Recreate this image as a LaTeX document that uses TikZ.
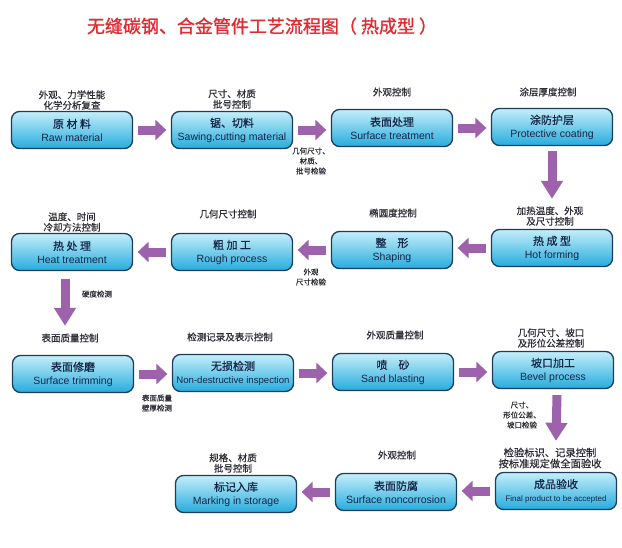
\documentclass[tikz,border=0pt]{standalone}
\usepackage{fontspec}
\setmainfont{Liberation Sans}
\newfontfamily\cjk[FakeBold=0.6]{Noto Sans CJK SC}
\newfontfamily\cjktitle[FakeBold=1.2]{Noto Sans CJK SC}
\usetikzlibrary{arrows.meta,calc}
\definecolor{boxline}{RGB}{28,62,92}
\definecolor{cyanlight}{RGB}{196,238,249}
\definecolor{cyandark}{RGB}{38,172,222}
\definecolor{boxtext}{RGB}{22,38,70}
\definecolor{labtext}{RGB}{45,45,55}
\definecolor{arrowcol}{RGB}{158,98,172}
\definecolor{titlered}{RGB}{226,42,48}
\newcommand\bxt[2]{{\cjk\fontsize{11}{13}\selectfont #1}\\#2}
\begin{document}
\begin{tikzpicture}[x=1pt,y=-1pt,
  box/.style={rounded corners=8pt, draw=boxline, line width=1.3pt,
    top color=cyanlight, bottom color=cyandark,
    minimum width=121pt, minimum height=37pt, inner sep=0pt, align=center,
    text=boxtext, font=\fontsize{10.5}{13}\selectfont},
  lab/.style={align=center, text=labtext, inner sep=0pt,
    font=\cjk\fontsize{9.5}{10.5}\selectfont},
  slab/.style={align=center, text=labtext, inner sep=0pt,
    font=\cjk\fontsize{7.5}{10}\selectfont},
  flowh/.style={line width=9pt, draw=arrowcol,
    -{Triangle[width=20pt,length=11pt]}, shorten <=4.5pt, shorten >=4.5pt},
  flowv/.style={line width=9pt, draw=arrowcol,
    -{Triangle[width=21pt,length=18pt]}}]
\fill[white] (0,0) rectangle (622,547);
\useasboundingbox (0,0) rectangle (622,547);

\node[text=titlered, inner sep=0pt, font=\cjktitle\fontsize{18}{20}\selectfont] (title) at (262,26) {无缝碳钢、合金管件工艺流程图（ 热成型 ）};

% row 1
\node[box] (raw) at (72,130) {\bxt{原 材 料}{Raw material}};
\node[box] (saw) at (232,130) {\bxt{锯、切料}{Sawing,cutting material}};
\node[box] (surf) at (392,128) {\bxt{表面处理}{Surface treatment}};
\node[box] (coat) at (552,127) {\bxt{涂防护层}{Protective coating}};
% row 2
\node[box] (heat) at (72,252) {\bxt{热 处 理}{Heat treatment}};
\node[box] (rough) at (232,252) {\bxt{粗 加 工}{Rough process}};
\node[box] (shape) at (392,250) {\bxt{整\quad 形}{Shaping}};
\node[box] (hot) at (552,248) {\bxt{热 成 型}{Hot forming}};
% row 3
\node[box] (trim) at (73,374) {\bxt{表面修磨}{Surface trimming}};
\node[box] (ndt) at (233,373) {\bxt{无损检测}{\fontsize{9.6}{13}\selectfont Non-destructive inspection}};
\node[box] (sand) at (393,372) {\bxt{喷\quad 砂}{Sand blasting}};
\node[box] (bevel) at (553,370) {\bxt{坡口加工}{Bevel process}};
% row 4
\node[box] (final) at (556,491) {\bxt{成品验收}{\fontsize{8}{13}\selectfont Final product to be accepted}};
\node[box] (noncorr) at (396,492) {\bxt{表面防腐}{Surface noncorrosion}};
\node[box] (mark) at (236,494) {\bxt{标记入库}{Marking in storage}};

% connectors
\draw[flowh] (raw.east) -- (raw.east -| saw.west);
\draw[flowh] (saw.east) -- (saw.east -| surf.west);
\draw[flowh] (surf.east) -- (surf.east -| coat.west);
\draw[flowv] ($(coat.south)+(0,5)$) -- ($(hot.north)+(0,-30)$);
\draw[flowh] (hot.west) -- (hot.west -| shape.east);
\draw[flowh] (shape.west) -- (shape.west -| rough.east);
\draw[flowh] (rough.west) -- (rough.west -| heat.east);
\draw[flowv] ($(heat.south)+(-7,8)$) -- ($(trim.north)+(-8,-29)$);
\draw[flowh] (trim.east) -- (trim.east -| ndt.west);
\draw[flowh] (ndt.east) -- (ndt.east -| sand.west);
\draw[flowh] (sand.east) -- (sand.east -| bevel.west);
\draw[flowv] ($(bevel.south)+(4,6)$) -- ($(final.north)+(0,-31)$);
\draw[flowh] (final.west) -- (final.west -| noncorr.east);
\draw[flowh] (noncorr.west) -- (noncorr.west -| mark.east);

% labels
\node[lab] (l1) at (72,100) {外观、力学性能\\化学分析复查};
\node[lab] (l2) at (232,99) {尺寸、材质\\批号控制};
\node[slab] (l3) at (311,161) {几何尺寸、\\材质、\\批号检验};
\node[lab] (l4) at (392,92) {外观控制};
\node[lab] (l5) at (548,92) {涂层厚度控制};
\node[lab] (l6) at (72,222) {温度、时间\\冷却方法控制};
\node[lab] (l7) at (228,214) {几何尺寸控制};
\node[slab] (l8) at (311,277) {外观\\尺寸检验};
\node[lab] (l9) at (393,213) {椭圆度控制};
\node[lab] (l10) at (550,216) {加热温度、外观\\及尺寸控制};
\node[slab] (l11) at (97,294) {硬度检测};
\node[lab] (l12) at (70,338) {表面质量控制};
\node[lab] (l13) at (230,337) {检测记录及表示控制};
\node[slab] (l14) at (157,403) {表面质量\\壁厚检测};
\node[lab] (l15) at (395,335) {外观质量控制};
\node[lab] (l16) at (551,338) {几何尺寸、坡口\\及形位公差控制};
\node[slab] (l17) at (522,415) {尺寸、\\形位公差、\\坡口检验};
\node[lab, font=\cjk\fontsize{10.3}{11}\selectfont] (l18) at (550,458) {检验标识、记录控制\\按标准规定做全面验收};
\node[lab] (l19) at (397,455) {外观控制};
\node[lab] (l20) at (233,463) {规格、材质\\批号控制};
\end{tikzpicture}
\end{document}
